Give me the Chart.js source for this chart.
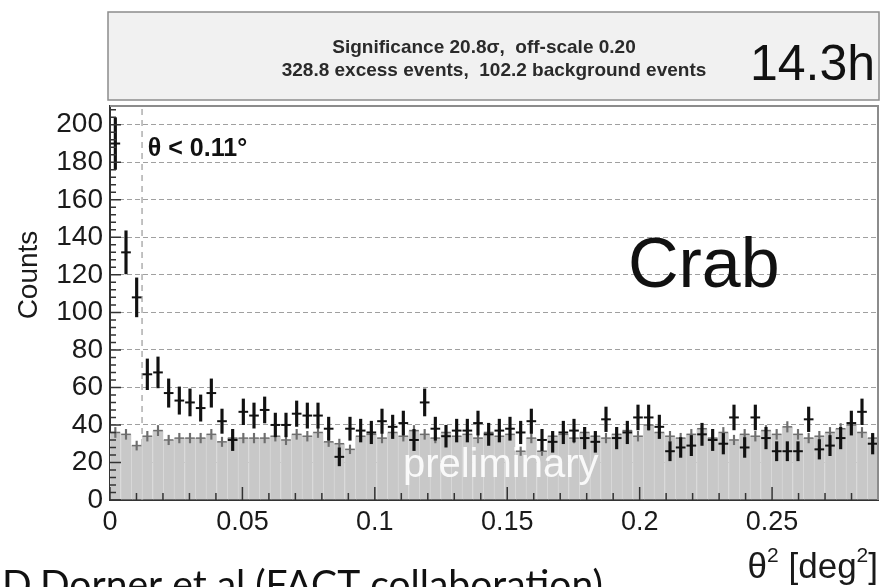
<!DOCTYPE html>
<html>
<head>
<meta charset="utf-8">
<script src="https://cdn.jsdelivr.net/npm/chart.js@4.4.0/dist/chart.umd.min.js"></script>
<style>
  html, body { margin: 0; padding: 0; background: #fff; }
  #wrap { width: 884px; height: 587px; position: relative; overflow: hidden; }
</style>
</head>
<body>
<div id="wrap"><canvas id="thetaSq" width="884" height="587"></canvas></div>
<script>
// theta^2 histogram, 72 bins from 0 to 0.29 deg^2
const THETA2_MAX = 0.29;
const N_BINS = 72;
const BIN_W = THETA2_MAX / N_BINS;
const OFF_SCALE = 0.2;      // "off-scale 0.20"
const THETA2_CUT = 0.0121;  // (0.11 deg)^2

// on-source counts (black crosses)
const onCounts = [190, 132, 108, 67, 68, 57, 53, 52, 49, 57,
                  42, 32, 47, 45, 48, 40, 40, 46, 45, 45,
                  38, 23, 38, 37, 36, 42, 39, 41, 32, 52,
                  38, 34, 37, 37, 41, 35, 37, 38, 36, 42,
                  32, 31, 36, 37, 33, 31, 43, 33, 36, 44,
                  44, 39, 26, 28, 29, 35, 32, 30, 44, 28,
                  44, 33, 26, 26, 26, 43, 27, 29, 33, 41,
                  47, 30];
// off-source counts, already scaled (grey histogram)
const offCounts = [36, 35, 29, 34, 37, 32, 33, 33, 33, 35,
                   31, 33, 33, 33, 33, 34, 32, 35, 34, 36,
                   31, 30, 27, 34, 35, 33, 36, 34, 37, 35,
                   33, 36, 34, 35, 33, 36, 34, 35, 26, 33,
                   26, 34, 35, 33, 36, 34, 33, 35, 37, 34,
                   40, 36, 34, 33, 35, 38, 33, 36, 32, 35,
                   34, 37, 35, 39, 35, 33, 34, 36, 38, 40,
                   36, 33];

const yTicks = [0, 20, 40, 60, 80, 100, 120, 140, 160, 180, 200];
const xTicks = [0, 0.05, 0.1, 0.15, 0.2, 0.25];
const xTickLabels = ['0', '0.05', '0.1', '0.15', '0.2', '0.25'];

const binCenters = onCounts.map((_, i) => (i + 0.5) * BIN_W);
const onErr = onCounts.map(n => Math.sqrt(n));
const offErr = offCounts.map(n => Math.sqrt(n * OFF_SCALE));

const FONT = '"Liberation Sans", Arial, Helvetica, sans-serif';

// half a bin in pixels, so the horizontal part of the crosses spans the bin
function halfBinPx(ctx) {
    const x = ctx.chart.scales.x;
    return (x.getPixelForValue(BIN_W) - x.getPixelForValue(0)) / 2 - 0.5;
}

// text with superscripts: parts = [[text, isSup], ...], right aligned at xr
function supText(ctx, parts, xr, yb, size, supSize) {
    let w = 0;
    parts.forEach(([t, sup]) => {
        ctx.font = (sup ? supSize : size) + 'px ' + FONT;
        w += ctx.measureText(t).width;
    });
    let xp = xr - w;
    parts.forEach(([t, sup]) => {
        ctx.font = (sup ? supSize : size) + 'px ' + FONT;
        ctx.fillText(t, xp, sup ? yb - size * 0.45 : yb);
        xp += ctx.measureText(t).width;
    });
}

const decor = {
    id: 'decor',
    beforeDraw(chart) {
        const {ctx, chartArea: a} = chart;
        ctx.save();
        // info box on top
        ctx.fillStyle = '#f1f1f1';
        ctx.fillRect(a.left - 2, 12, a.right - a.left + 3, 88);
        ctx.strokeStyle = '#8c8c8c'; ctx.lineWidth = 1.5;
        ctx.strokeRect(a.left - 2, 12, a.right - a.left + 3, 88);
        ctx.fillStyle = '#2a2a2a';
        ctx.font = 'bold 19px ' + FONT;
        ctx.textAlign = 'center'; ctx.textBaseline = 'middle';
        ctx.fillText('Significance 20.8\u03c3,  off-scale 0.20', 484, 48);
        ctx.fillText('328.8 excess events,  102.2 background events', 494, 71);
        ctx.fillStyle = '#111';
        ctx.font = '50px ' + FONT;
        ctx.textAlign = 'right'; ctx.textBaseline = 'alphabetic';
        ctx.fillText('14.3h', 875, 80);
        ctx.restore();
    },
    beforeDatasetsDraw(chart) {
        const {ctx, chartArea: a, scales: {x}} = chart;
        const px = x.getPixelForValue(THETA2_CUT);
        ctx.save();
        ctx.strokeStyle = '#9a9a9a'; ctx.lineWidth = 1.2;
        ctx.setLineDash([6, 5]);
        ctx.beginPath(); ctx.moveTo(px, a.bottom); ctx.lineTo(px, a.top); ctx.stroke();
        ctx.restore();
    },
    afterDatasetDraw(chart, args) {
        if (args.index !== 0) return;
        const {ctx, scales: {x, y}} = chart;
        ctx.save();
        ctx.fillStyle = 'rgba(255,255,255,0.88)';
        ctx.font = '40px ' + FONT;
        ctx.fillText('preliminary', x.getPixelForValue(0.1106), y.getPixelForValue(12.3));
        ctx.restore();
    },
    afterDraw(chart) {
        const {ctx, chartArea: a, scales: {x, y}} = chart;
        ctx.save();
        // frame: grey top / right
        ctx.strokeStyle = '#8c8c8c'; ctx.lineWidth = 2;
        ctx.beginPath();
        ctx.moveTo(a.left, a.top); ctx.lineTo(a.right, a.top); ctx.lineTo(a.right, a.bottom);
        ctx.stroke();
        // inner ticks
        ctx.strokeStyle = '#333'; ctx.lineWidth = 1.5;
        ctx.beginPath();
        for (let v = 0; v <= 210; v += 4) {
            const py = y.getPixelForValue(v), len = v % 20 === 0 ? 11 : 6;
            ctx.moveTo(a.left, py); ctx.lineTo(a.left + len, py);
        }
        for (let k = 0; k <= 28; k++) {
            const px = x.getPixelForValue(k * 0.01), len = k % 5 === 0 ? 13 : 7;
            ctx.moveTo(px, a.bottom); ctx.lineTo(px, a.bottom - len);
        }
        ctx.stroke();
        // annotations
        ctx.fillStyle = '#111';
        ctx.font = 'bold 25px ' + FONT;
        ctx.fillText('\u03b8 < 0.11\u00b0', x.getPixelForValue(0.0143), y.getPixelForValue(183.4));
        ctx.font = '70px ' + FONT;
        ctx.fillText('Crab', x.getPixelForValue(0.1956), y.getPixelForValue(113.5));
        // x title with superscripts
        ctx.fillStyle = '#1a1a1a';
        supText(ctx, [['\u03b8', false], ['2', true], [' [deg', false], ['2', true], [']', false]],
                a.right, 578, 35, 21);
        // y title
        ctx.font = '28px ' + FONT;
        ctx.translate(37, 275); ctx.rotate(-Math.PI / 2);
        ctx.textAlign = 'center';
        ctx.fillText('Counts', 0, 0);
        ctx.restore();
        // credit line at the bottom of the slide
        ctx.save();
        ctx.fillStyle = '#111';
        ctx.font = '39px Lato, "Open Sans", sans-serif';
        ctx.fillText('D.Dorner et al (FACT collaboration)', 2, 598);
        ctx.restore();
    }
};

new Chart(document.getElementById('thetaSq'), {
    type: 'bar',
    data: {
        datasets: [
            {
                label: 'off (histogram)',
                data: binCenters.map((xc, i) => ({x: xc, y: offCounts[i]})),
                backgroundColor: '#c8c8c8',
                borderColor: '#d8d8d8',
                borderWidth: {left: 1, right: 0, top: 0, bottom: 0},
                borderSkipped: false,
                barPercentage: 1, categoryPercentage: 1,
                grouped: false, order: 6
            },
            {
                label: 'off error',
                data: binCenters.map((xc, i) => ({x: xc, y: [offCounts[i] - offErr[i], offCounts[i] + offErr[i]]})),
                backgroundColor: '#6e6e6e',
                barThickness: 1.5, grouped: false, order: 5
            },
            {
                type: 'line',
                label: 'off',
                data: binCenters.map((xc, i) => ({x: xc, y: offCounts[i]})),
                showLine: false,
                pointStyle: 'line', pointRadius: halfBinPx,
                borderColor: '#6e6e6e', pointBorderColor: '#6e6e6e', pointBorderWidth: 1.5,
                order: 4
            },
            {
                label: 'on error',
                data: binCenters.map((xc, i) => ({x: xc, y: [onCounts[i] - onErr[i], onCounts[i] + onErr[i]]})),
                backgroundColor: '#111',
                barThickness: 2.5, grouped: false, order: 2
            },
            {
                type: 'line',
                label: 'on',
                data: binCenters.map((xc, i) => ({x: xc, y: onCounts[i]})),
                showLine: false,
                pointStyle: 'line', pointRadius: halfBinPx,
                borderColor: '#111', pointBorderColor: '#111', pointBorderWidth: 2,
                order: 1
            }
        ]
    },
    options: {
        responsive: false,
        animation: false,
        layout: {padding: {top: 106, right: 6, left: 0, bottom: 0}},
        plugins: {legend: {display: false}, tooltip: {enabled: false}},
        scales: {
            x: {
                type: 'linear', min: 0, max: THETA2_MAX, offset: false,
                afterBuildTicks: s => { s.ticks = xTicks.map(v => ({value: v})); },
                afterFit: s => { s.height = 87; },
                grid: {display: false, offset: false, drawTicks: false},
                border: {display: true, color: '#333', width: 2},
                ticks: {
                    autoSkip: false, maxRotation: 0, padding: 6,
                    font: {family: FONT, size: 27}, color: '#1a1a1a',
                    callback: (v, i) => xTickLabels[i]
                }
            },
            y: {
                min: 0, max: 210,
                afterBuildTicks: s => { s.ticks = yTicks.map(v => ({value: v})); },
                afterFit: s => { s.width = 110; },
                grid: {
                    drawTicks: false,
                    color: c => (c.tick && c.tick.value === 0) ? 'rgba(0,0,0,0)' : '#a0a0a0',
                    lineWidth: 1
                },
                border: {display: true, color: '#333', width: 2, dash: [5, 3]},
                ticks: {
                    autoSkip: false, padding: 7,
                    font: {family: FONT, size: 28}, color: '#1a1a1a',
                    callback: v => String(v)
                }
            }
        }
    },
    plugins: [decor]
});
</script>
</body>
</html>
